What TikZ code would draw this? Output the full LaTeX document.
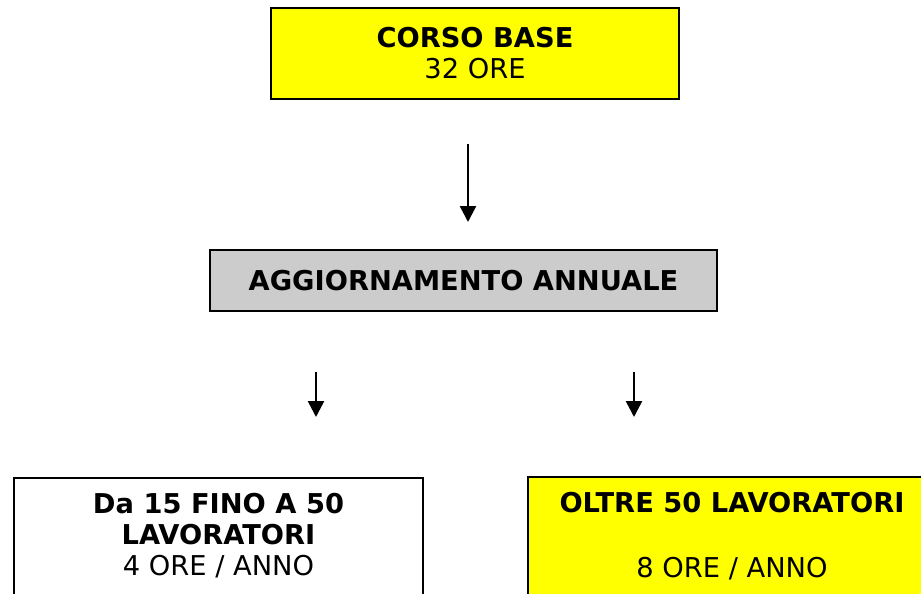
\documentclass[tikz,border=0pt]{standalone}
\usepackage{fontspec}
\setmainfont{DejaVu Sans}
\usetikzlibrary{arrows.meta}
\definecolor{boxyellow}{RGB}{255,255,0}
\definecolor{boxgray}{RGB}{204,204,204}

\begin{document}
\begin{tikzpicture}[x=1pt,y=-1pt,
    box/.style={draw,rectangle,line width=2pt,align=center,inner sep=0pt,font=\fontsize{27.3}{31}\selectfont},
    arr/.style={black,line width=2.5pt,-{Triangle[width=16pt,length=16pt]}}]
    \useasboundingbox (0,0) rectangle (921,594);
    % Nodes
    \node[box,fill=boxyellow,minimum width=408pt,minimum height=91pt] (base) at (475,53.5) {\textbf{CORSO BASE}\\32 ORE};
    \node[box,fill=boxgray,minimum width=507pt,minimum height=61pt] (agg) at (463.5,280.5) {\textbf{AGGIORNAMENTO ANNUALE}};
    \node[box,anchor=north,minimum width=409pt,inner ysep=15pt,text depth=100pt] (small) at (218.5,477) {\textbf{Da 15 FINO A 50}\\\textbf{LAVORATORI}\\4 ORE / ANNO};
    \node[box,fill=boxyellow,anchor=north,minimum width=408pt,inner ysep=15pt,text depth=100pt] (large) at (732,476) {\textbf{OLTRE 50 LAVORATORI}\\[34pt]8 ORE / ANNO};

    % Arrows
    \coordinate (b1) at (468,144);
    \coordinate (b2) at (468,222);
    \coordinate (l1) at (316,372);
    \coordinate (l2) at (316,417);
    \coordinate (r1) at (634,372);
    \coordinate (r2) at (634,417);
    \draw[arr] (b1) -- (b2);
    \draw[arr] (l1) -- (l2);
    \draw[arr] (r1) -- (r2);
\end{tikzpicture}
\end{document}
